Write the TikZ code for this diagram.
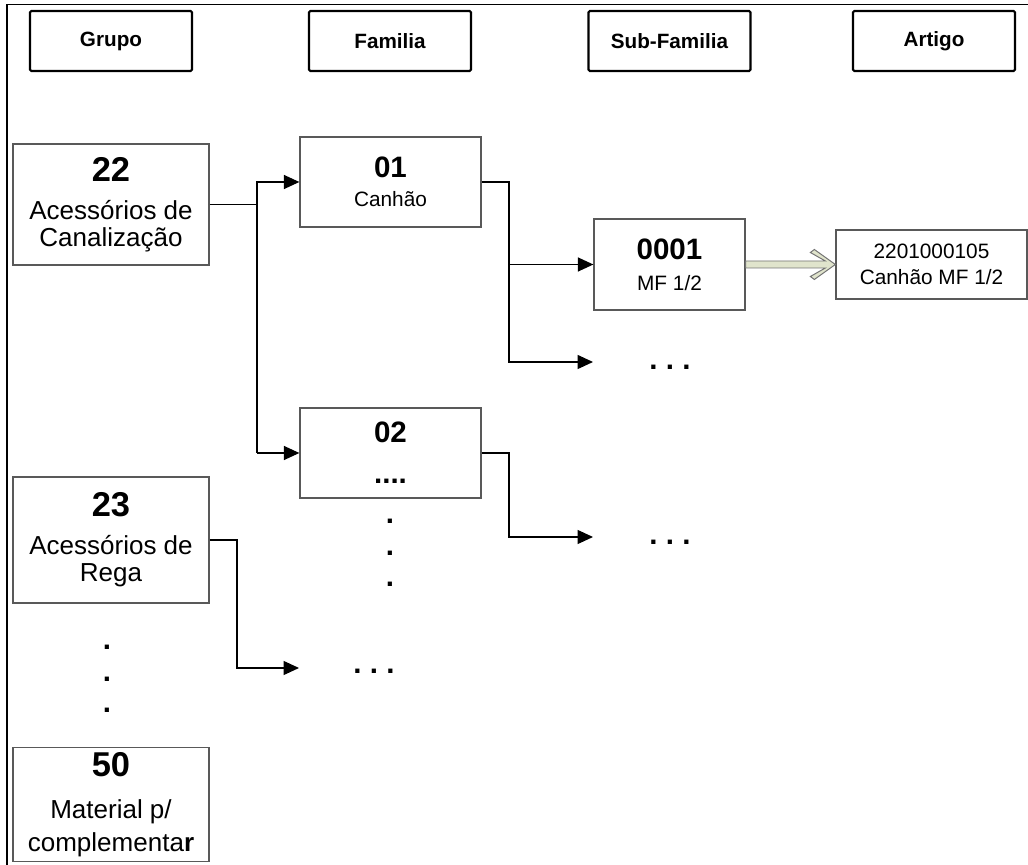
\documentclass[tikz,border=0pt]{standalone}
\usepackage{fontspec}
\setmainfont{Liberation Sans}
\usetikzlibrary{arrows.meta, calc}
\definecolor{arrfill}{HTML}{E0E4CC}
\tikzset{hdr/.style = {draw, line width=1.5pt, rounded corners=1pt, minimum width=4.05cm, minimum height=1.5cm, font=\bfseries\fontsize{14.7}{17}\selectfont}}
\tikzset{grp/.style = {draw=black!65, line width=0.9pt, minimum width=4.9cm, align=center, font=\fontsize{18.5}{19}\selectfont}}
\tikzset{fam/.style = {draw=black!65, line width=0.9pt, minimum width=4.525cm, minimum height=2.25cm, align=center, font=\fontsize{14.8}{17}\selectfont}}
\tikzset{art/.style = {draw=black!65, line width=0.9pt, minimum width=4.775cm, minimum height=1.725cm, align=center, font=\fontsize{14.8}{18.5}\selectfont}}
\tikzset{dots/.style = {inner sep=0pt, align=center, font=\bfseries\fontsize{21}{22.5}\selectfont}}
\tikzset{link/.style = {line width=0.8pt}, arr/.style = {link, -{Triangle[length=11pt, width=10pt]}}}
\tikzset{fat/.style = {draw=black!55, line width=0.7pt, fill=arrfill, line join=miter}}
\newcommand{\bignum}[1]{{\bfseries\fontsize{24.5}{25}\selectfont #1}}
\newcommand{\midnum}[1]{{\bfseries\fontsize{21}{21}\selectfont #1}}

\begin{document}
\begin{tikzpicture}[x=0.025cm, y=-0.025cm]
\useasboundingbox (0,0) rectangle (1028,865);
\draw [line width=1.2pt] (7,865) -- (7,4.5) -- (1028,4.5);
% column titles
\node [hdr] (grupo) at (111,41) {Grupo};
\node [hdr] (familia) at (390,41) {Familia};
\node [hdr] (subfam) at (669.5,41) {Sub-Familia};
\node [hdr] (artigo) at (934,41) {Artigo};
% grupos
\node [grp, minimum height=3.025cm] (g22) at (111,204.5) {\bignum{22}\\[8pt] Acessórios de\\Canalização};
\node [grp, minimum height=3.15cm] (g23) at (111,540) {\bignum{23}\\[8pt] Acessórios de\\Rega};
\node [grp, minimum height=2.825cm] (g50) at (111,804.5) {\bignum{50}\\[11pt] Material p/\\[4pt]complementa\textbf{r}};
\node [dots] (v23) at (107,679) {.\\.\\.};
% familias
\node [fam] (f01) at (390.5,182) {\midnum{01}\\[4pt] Canhão};
\node [fam] (f02) at (390.5,453) {\midnum{02}\\[12pt]\midnum{....}};
\node [dots] (v02) at (390,553) {.\\.\\.};
\node [dots] (d3) at (374,671) {.\ .\ .};
% sub-familias
\node [fam, minimum width=3.775cm, minimum height=2.275cm] (s0001) at (669.5,264.5) {\midnum{0001}\\[5pt] MF 1/2};
\node [dots] (d1) at (670,367) {.\ .\ .};
\node [dots] (d2) at (670,542) {.\ .\ .};
% artigo
\node [art] (a1) at (931.5,264.5) {2201000105\\Canhão MF 1/2};
% branch points and free ends
\coordinate (b22) at (257,0);
\coordinate (b01) at (509,0);
\coordinate (b23) at (237,0);
\coordinate (e1) at (593,362);
\coordinate (e2) at (593,537);
\coordinate (e3) at (299,668);
% connectors
\draw [link] (g22.east) -- (g22.east -| b22);
\draw [arr] (b22 |- f02.west) |- (f01.west);
\draw [arr] (b22 |- f02.west) -- (f02.west);
\draw [arr] (f01.east) -| (b01 |- e1) -- (e1);
\draw [arr] (b01 |- s0001.west) -- (s0001.west);
\draw [arr] (f02.east) -| (b01 |- e2) -- (e2);
\draw [arr] (g23.east) -| (b23 |- e3) -- (e3);
\draw [fat] ($(s0001.east)+(0,-3.5)$) -- ($(a1.west)+(-10,-3.5)$) -- ($(a1.west)+(-25,-12)$) -- ($(a1.west)+(-21,-15)$) -- (a1.west) -- ($(a1.west)+(-21,15)$) -- ($(a1.west)+(-25,12)$) -- ($(a1.west)+(-10,3.5)$) -- ($(s0001.east)+(0,3.5)$) -- cycle;
\end{tikzpicture}
\end{document}
